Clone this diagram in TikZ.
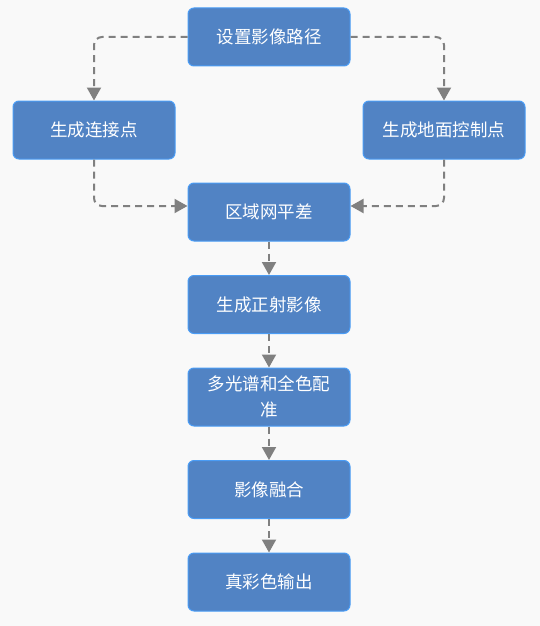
\documentclass[tikz,border=0pt]{standalone}
\usepackage{fontspec}
\newfontfamily\cjk{Noto Sans CJK SC}
\usetikzlibrary{arrows.meta, positioning}
\definecolor{boxfill}{HTML}{5183C4}
\definecolor{boxline}{HTML}{4A9CF5}
\definecolor{flowgray}{HTML}{808080}
\definecolor{bggray}{HTML}{F9F9F9}

\begin{document}
\begin{tikzpicture}[font=\cjk\fontsize{17.5pt}{26pt}\selectfont, node distance=33.5pt,
    proc/.style={draw=boxline, line width=1pt, fill=boxfill, text=white, rounded corners=6pt,
        minimum width=162pt, minimum height=58pt, align=center, inner sep=2pt},
    flow/.style={draw=flowgray, line width=2pt, dash pattern=on 7pt off 5pt, rounded corners=8pt,
        -{Triangle[length=13pt, width=14pt]}}]
    % background
    \fill[bggray] (0,0) rectangle (540pt,-626pt);
    \useasboundingbox (0,0) rectangle (540pt,-626pt);
    % top
    \node[proc] (setpath) at (269pt,-37pt) {设置影像路径};
    % two branches
    \node[proc, below left=34pt and 12pt of setpath] (tiepts) {生成连接点};
    \node[proc, below right=34pt and 12pt of setpath] (gcpts) {生成地面控制点};
    % main chain
    \node[proc, below=116pt of setpath] (adjust) {区域网平差};
    \node[proc, below=of adjust] (ortho) {生成正射影像};
    \node[proc, below=of ortho] (regist) {多光谱和全色配\\准};
    \node[proc, below=of regist] (fusion) {影像融合};
    \node[proc, below=of fusion] (output) {真彩色输出};
    \coordinate (adjin) at ([yshift=6pt]adjust.center);

    \draw[flow] (setpath.west) -| (tiepts.north);
    \draw[flow] (setpath.east) -| (gcpts.north);
    \draw[flow] (tiepts.south) |- (adjin -| adjust.west);
    \draw[flow] (gcpts.south) |- (adjin -| adjust.east);
    \draw[flow] (adjust) -- (ortho);
    \draw[flow] (ortho) -- (regist);
    \draw[flow] (regist) -- (fusion);
    \draw[flow] (fusion) -- (output);
\end{tikzpicture}
\end{document}
